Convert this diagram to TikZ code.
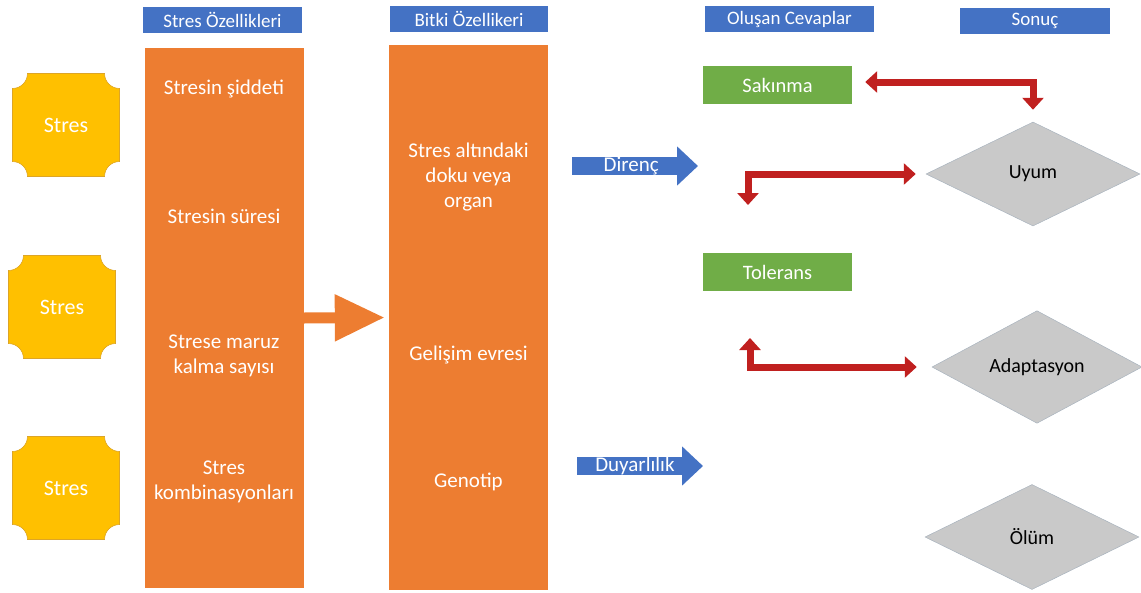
\documentclass[tikz,border=0pt]{standalone}
\usepackage{fontspec}
\setmainfont{Carlito}
\usepackage{tikz}
\usetikzlibrary{shapes.geometric,arrows.meta,positioning}

\definecolor{hdrblue}{HTML}{4472C4}
\definecolor{stresorange}{HTML}{ED7D31}
\definecolor{plaqueyellow}{HTML}{FFC000}
\definecolor{plaqueedge}{HTML}{DDA526}
\definecolor{okgreen}{HTML}{70AD47}
\definecolor{arrowred}{HTML}{C0201F}
\definecolor{diamgray}{HTML}{C9C9C9}
\definecolor{diamedge}{HTML}{A9B3BE}

\tikzset{
  header/.style={fill=hdrblue,text=white,inner sep=0,minimum height=26pt,
    font=\fontsize{19}{20}\selectfont},
  column/.style={fill=stresorange,inner sep=0,minimum width=159pt},
  coltext/.style={text=white,align=center,font=\fontsize{21}{25}\selectfont},
  plaque/.style={fill=plaqueyellow,draw=plaqueedge,line width=.6pt},
  answer/.style={fill=okgreen,text=white,inner sep=0,minimum width=149pt,
    minimum height=38pt,font=\fontsize{20.5}{22}\selectfont},
  result/.style={diamond,fill=diamgray,draw=diamedge,line width=.5pt,inner sep=0,
    minimum width=214pt,minimum height=104pt,font=\fontsize{20}{22}\selectfont},
  bluearrow/.style={draw=hdrblue,line width=18pt,-{Triangle[width=38pt,length=21pt]}},
  arrowtext/.style={text=white,inner sep=0,font=\fontsize{21}{22}\selectfont},
  redarrow/.style={draw=arrowred,line width=7pt,line join=miter,
    {Triangle[width=21pt,length=12pt]}-{Triangle[width=21pt,length=12pt]}},
  orangearrow/.style={draw=stresorange,line width=11pt,
    -{Triangle[width=44pt,length=50pt]}}
}

\begin{document}
\begin{tikzpicture}[x=1pt,y=-1pt]
\useasboundingbox (0,0) rectangle (1141,592);
% Headers
\node at (222.5,20) [header,minimum width=159pt] (hdrStres) {Stres Özellikleri};
\node at (469,19) [header,minimum width=158pt] (hdrBitki) {Bitki Özellikeri};
\node at (789.5,19) [header,minimum width=169pt] (hdrCevap) {Oluşan Cevaplar};
\node at (1035,20.5) [header,minimum width=150pt] (hdrSonuc) {Sonuç};
% Stres plaques
\foreach \n/\x/\y in {1/66/125, 2/62/307, 3/66/488} {
  \filldraw[plaque] (\x-38.5,\y-51.5) -- (\x+38.5,\y-51.5)
    arc[start angle=180,end angle=90,radius=15] -- (\x+53.5,\y+36.5)
    arc[start angle=270,end angle=180,radius=15] -- (\x-38.5,\y+51.5)
    arc[start angle=0,end angle=-90,radius=15] -- (\x-53.5,\y-36.5)
    arc[start angle=90,end angle=0,radius=15] -- cycle;
  \node at (\x,\y) [coltext,font=\fontsize{22}{24}\selectfont] (Stres\n) {Stres};
}
% Columns
\node at (224,318) [column,minimum height=540pt] (StresCol) {};
\node at (468.5,317.5) [column,minimum height=545pt] (BitkiCol) {};
\node at (224,89) [coltext] (Siddet) {Stresin şiddeti};
\node at (224,216) [coltext] (Sure) {Stresin süresi};
\node at (224,356) [coltext] (Maruz) {Strese maruz\\kalma sayısı};
\node at (224,482) [coltext] (Kombi) {Stres\\kombinasyonları};
\node at (468.5,177) [coltext] (Doku) {Stres altındaki\\doku veya\\organ};
\node at (468.5,355) [coltext] (Evre) {Gelişim evresi};
\node at (468.5,482) [coltext] (Genotip) {Genotip};
\draw[orangearrow,shorten >=4pt] (StresCol.east) -- (BitkiCol.west);
% Responses
\coordinate (DirencA) at (572,166);
\coordinate (DirencB) at (698,166);
\coordinate (DuyarA) at (577,466);
\coordinate (DuyarB) at (703,466);
\draw[bluearrow] (DirencA) -- node[arrowtext,pos=.47] (Direnc) {Direnç} (DirencB);
\draw[bluearrow] (DuyarA) -- node[arrowtext,pos=.46] (Duyar) {Duyarlılık} (DuyarB);
\node at (777.5,85) [answer] (Sakinma) {Sakınma};
\node at (777.5,272) [answer] (Tolerans) {Tolerans};
% Results
\node at (1033,174) [result] (Uyum) {Uyum};
\node at (1037,367) [result,minimum width=210pt] (Adapt) {Adaptasyon};
\node at (1032,537) [result,minimum height=105pt] (Olum) {Ölüm};
% Red connectors
\coordinate (UyumTol) at (748,205);
\coordinate (AdaptTol) at (750,338);
\draw[redarrow,shorten <=13pt,shorten >=12pt] ([yshift=3pt]Sakinma.east) -| (Uyum.north);
\draw[redarrow,shorten <=10pt] (Uyum.west) -| (UyumTol);
\draw[redarrow,shorten <=15pt] (Adapt.west) -| (AdaptTol);
\end{tikzpicture}
\end{document}
